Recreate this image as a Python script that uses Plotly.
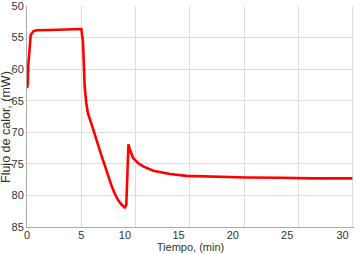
import plotly.graph_objects as go

# Time (min) and heat flow (mW)
tiempo = [0.0, 0.06, 0.12, 0.21, 0.34, 0.58, 0.89, 2.1, 3.5, 5.0,
          5.15, 5.24, 5.31, 5.46, 5.61, 5.92, 6.23, 6.53, 6.84, 7.15,
          7.45, 7.76, 8.07, 8.37, 8.68, 8.99, 9.14, 9.19, 9.25, 9.29,
          9.34, 9.48, 9.78, 10.24, 10.7, 11.62, 13.16, 14.69, 16.22, 17.76,
          20.2, 23.3, 26.3, 29.96]
flujo = [63.0, 62.5, 59.3, 56.7, 54.6, 54.0, 53.85, 53.8, 53.7, 53.65,
         55.65, 60.1, 62.8, 65.4, 67.0, 68.6, 70.4, 72.0, 73.6, 75.2,
         76.8, 78.35, 79.7, 80.7, 81.4, 81.9, 81.5, 79.0, 75.0, 72.8,
         71.9, 72.8, 74.1, 74.9, 75.4, 76.1, 76.6, 76.9, 77.0, 77.1,
         77.15, 77.2, 77.3, 77.3]

x_grid = [0, 5, 10, 15, 20, 25, 30]
x_label_pos = [0, 5, 9.02, 13.95, 18.95, 23.95, 29.05]
x_labels = ["0", "5", "10", "15", "20", "25", "30"]
y_ticks = [50, 55, 60, 65, 70, 75, 80, 85]

font = dict(family="Liberation Sans, Arial, sans-serif", size=11, color="#333333")

fig = go.Figure()
fig.add_trace(go.Scatter(x=tiempo, y=flujo, mode="lines",
                         line=dict(color="#ff0000", width=2.6),
                         showlegend=False))
fig.add_trace(go.Scatter(x=[], y=[], xaxis="x2", showlegend=False, hoverinfo="skip"))

fig.update_layout(
    width=361, height=254,
    margin=dict(l=27, r=7, t=6, b=27),
    paper_bgcolor="white", plot_bgcolor="white",
    font=font,
    xaxis=dict(range=[0, 30.1], tickvals=x_grid, showticklabels=False,
               showgrid=True, gridcolor="#dddddd", gridwidth=1,
               showline=True, linecolor="#aaaaaa", linewidth=1,
               zeroline=False, ticks="", automargin=False),
    xaxis2=dict(range=[0, 30.1], overlaying="x", side="bottom", anchor="y",
                tickvals=x_label_pos, ticktext=x_labels,
                showgrid=False, zeroline=False, showline=False, ticks="",
                tickfont=font, automargin=False, ticklabeloverflow="allow",
                title=dict(text="Tiempo, (min)", font=font, standoff=0)),
    yaxis=dict(range=[85, 50], tickvals=y_ticks,
               showgrid=True, gridcolor="#dddddd", gridwidth=1,
               showline=True, linecolor="#aaaaaa", linewidth=1,
               zeroline=False, ticks="", tickfont=font, automargin=False,
               ticklabeloverflow="allow"),
    annotations=[dict(text="Flujo de calor, (mW)", textangle=-90,
                      xref="paper", yref="paper", x=0, y=0.4525,
                      xanchor="center", yanchor="middle", xshift=-21,
                      showarrow=False,
                      font=dict(family="Liberation Sans, Arial, sans-serif",
                                size=12.5, color="#333333"))],
)

fig.write_html("out.html", config={"displayModeBar": False},
               post_script="document.body.style.margin='0';document.body.style.padding='0';document.body.style.overflow='hidden';")
